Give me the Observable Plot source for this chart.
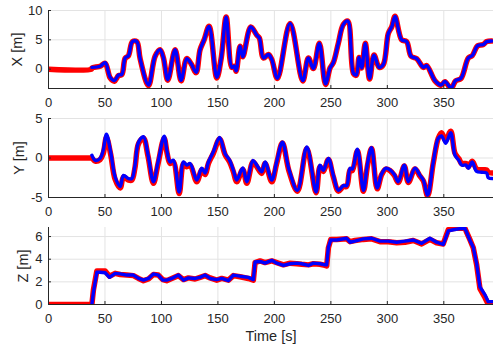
<!DOCTYPE html>
<html>
<head>
<meta charset="utf-8">
<script src="https://cdn.jsdelivr.net/npm/d3@7"></script>
<script src="https://cdn.jsdelivr.net/npm/@observablehq/plot@0.6"></script>
<style>
  html, body { margin: 0; padding: 0; background: #ffffff; }
  #chart { width: 498px; height: 354px; position: relative; overflow: hidden; }
  #chart svg { display: block; }
</style>
</head>
<body>
<div id="chart"></div>
<script>
// ---------- data ----------
const timeTicks = [0, 50, 100, 150, 200, 250, 300, 350];
const xTicksY = [0, 5, 10];
const yTicksY = [-5, 0, 5];
const zTicksY = [0, 2, 4, 6];

// reference (red) is zero before the start
const refStartT = [0, 38];
const refStartV = [0, 0];

// X panel
const xT = [38.4, 45.8, 50.2, 54.6, 58.4, 62, 64.9, 67.9, 70.8, 74.3, 78.2, 81.2, 88.5, 94.4, 98.8, 101.8, 105.6, 112.1, 117.4, 122.4, 126.3, 130.7, 134.2, 137.8, 142.2, 149, 153, 157.3, 162.3, 164.4, 166.1, 169.6, 172, 179.1, 184.4, 186.7, 190.3, 194.7, 197.6, 202.7, 213.9, 225.1, 230.1, 234.5, 239.8, 245.3, 249.3, 252.2, 256.6, 261, 265, 270, 272.5, 275, 277.3, 280.5, 284.3, 288.2, 292.8, 296.5, 300.9, 303.9, 306.8, 312.7, 317.1, 321, 326, 331.9, 334.8, 342.2, 347.5, 351, 356.4, 360.5, 365.2, 371.7, 375.2, 380, 385, 388, 392.4];
const xMeas = [0.3, 0.5, 1.1, -1.4, -1.95, -1.0, -0.9, 1.9, 2.3, 4.7, 4.7, 1.7, -2.7, 2.2, 3.3, 1.9, -1.8, 3.3, -1.9, 1.8, 0.9, -0.55, 3.3, 5.0, 7.3, -1.4, 2.0, 8.9, 0.3, 0.5, -0.3, 3.9, 2.1, 7.2, 5.8, 5.3, 1.9, 2.5, 1.7, -1.55, 7.8, -1.95, 1.9, 0.1, 4.4, -2.5, 0.2, 1.1, 4.4, 7.6, 8.2, -0.7, -1.0, 2.0, 0.2, 4.4, -1.6, 2.4, 0.3, 0.8, 6.1, 7.2, 9.0, 5.0, 4.7, 2.2, 1.8, 0.3, 0.6, -1.95, -2.7, -2.1, -3.2, -1.95, -1.55, 1.9, 2.3, 4.0, 4.2, 4.7, 4.8];
const xRef = [0.2, 0.5, 1.0, -1.5, -2.05, -1.1, -0.95, 1.85, 2.3, 4.7, 4.7, 1.7, -2.8, 2.2, 3.3, 1.9, -1.9, 3.3, -2.0, 1.8, 0.9, -0.6, 3.3, 5.0, 7.3, -1.5, 2.0, 8.9, 0.3, 0.5, -0.35, 3.9, 2.1, 7.2, 5.8, 5.3, 1.9, 2.5, 1.7, -1.6, 7.8, -2.0, 1.9, 0.1, 4.4, -2.6, 0.2, 1.1, 4.4, 7.6, 8.2, -0.75, -1.05, 2.0, 0.2, 4.4, -1.7, 2.4, 0.3, 0.8, 6.1, 7.2, 9.0, 5.0, 4.7, 2.2, 1.8, 0.3, 0.6, -2.0, -2.75, -2.15, -3.3, -2.0, -1.6, 1.9, 2.3, 4.0, 4.2, 4.7, 4.8];

// Y panel
const yT = [38.4, 41.3, 45.7, 48.5, 51.3, 55, 59, 63.5, 66.4, 70.8, 73.8, 76.5, 79.7, 84.1, 88, 92.9, 97, 102.4, 105, 107.7, 110.6, 115.7, 119.5, 122.4, 125.4, 131.3, 135.7, 138.7, 141.6, 146, 151.5, 156.4, 160.4, 163.7, 166.7, 172, 175.6, 181, 184.4, 188.8, 191.8, 197.7, 202, 207.1, 213, 220.4, 228.7, 236.9, 240.4, 243.4, 247.8, 252.2, 256.7, 261.1, 264, 267, 269, 273.5, 278.8, 282.5, 286, 291, 295, 298.6, 302.4, 306.2, 309.7, 315, 318.6, 324.5, 328.9, 331.9, 335.7, 340.7, 345.1, 348, 351.7, 356.1, 359.9, 363.4, 365.8, 369.7, 371.7, 375.2, 379, 383.5, 387.9, 389.4, 393];
const yMeas = [0.35, -0.3, -0.05, 1.0, 3.0, 0.8, -2.4, -3.6, -2.2, -2.6, -2.6, -1.0, 2.0, 2.7, 0.5, -3.0, -0.5, 2.75, 0.8, -0.5, -0.3, -4.3, -0.5, -0.9, -0.7, -2.8, -1.3, -1.9, -0.5, 0.8, 2.6, 0.55, -0.3, -1.55, -2.8, -1.25, -3.0, -0.3, -0.9, -1.75, -0.5, -2.8, -0.5, 2.0, -1.5, -4.1, 1.4, -4.3, -0.9, -1.55, -0.07, -2.2, -4.1, -3.5, -3.5, -1.3, -1.4, 1.1, -4.1, -0.7, 1.3, -3.8, -2.0, -1.3, -1.5, -2.1, -3.0, -0.9, -3.0, -1.3, -2.2, -2.8, -4.7, -0.5, 2.5, 2.8, 1.85, 3.2, 0.35, -0.3, -0.9, -0.9, -1.3, -0.5, -1.7, -1.8, -1.9, -2.5, -2.6];
const yRef = [0.0, -0.4, -0.2, 0.6, 2.6, 0.5, -2.7, -3.8, -2.4, -2.8, -2.8, -1.3, 1.8, 2.5, 0.3, -3.2, -0.7, 2.5, 0.6, -0.7, -0.5, -4.5, -0.7, -1.1, -0.9, -3.0, -1.5, -2.1, -0.7, 0.6, 2.4, 0.4, -0.5, -1.75, -3.0, -1.45, -3.2, -0.5, -1.1, -1.95, -0.7, -3.0, -0.7, 1.9, -1.7, -4.2, 1.2, -4.4, -1.1, -1.7, -0.2, -2.4, -4.2, -3.6, -3.6, -1.5, -1.6, 0.9, -4.2, -0.9, 1.2, -3.9, -2.1, -1.4, -1.6, -2.2, -3.1, -1.0, -3.1, -1.4, -2.3, -2.9, -4.8, -0.6, 2.5, 3.2, 2.2, 3.4, 0.6, -0.1, -0.7, -0.7, -1.1, -0.4, -1.4, -1.5, -1.5, -1.8, -1.9];

// Z panel
const zT = [38.4, 39.8, 42.8, 45.7, 50.2, 54, 59, 63.5, 69.3, 75.2, 79.7, 84.1, 88.5, 92.9, 97.3, 101.2, 104.6, 109.1, 115, 119.5, 123.9, 129.8, 134.2, 138.7, 143.1, 149, 153.4, 159.3, 163.7, 169.6, 176.9, 181.4, 182.9, 187.3, 191.7, 197.7, 202.1, 208, 213.9, 219.8, 224.2, 230.1, 234.5, 240.4, 244.8, 246.3, 247.8, 249.9, 255.2, 264, 267, 271.4, 278.8, 286.1, 293.5, 300.9, 308.3, 315.6, 323, 330.4, 337.7, 343.6, 349.5, 354, 358.5, 364.4, 368.8, 373.2, 376.1, 379.1, 382, 386.5, 389.4, 393.8];
const zMeas = [0, 1.1, 2.85, 2.85, 2.8, 2.4, 2.75, 2.7, 2.6, 2.6, 2.3, 2.15, 2.3, 2.7, 2.6, 2.15, 2.15, 2.3, 2.6, 2.15, 2.35, 2.3, 2.4, 2.6, 2.3, 2.2, 2.3, 2.1, 2.6, 2.5, 2.4, 2.2, 3.75, 3.8, 3.65, 3.9, 3.65, 3.45, 3.6, 3.65, 3.6, 3.45, 3.65, 3.6, 3.5, 3.5, 5.05, 5.7, 5.7, 5.85, 5.5, 5.6, 5.8, 5.85, 5.6, 5.6, 5.5, 5.6, 5.7, 5.4, 5.85, 5.5, 5.3, 6.5, 6.6, 6.7, 6.7, 5.65, 5.05, 3.6, 1.55, 0.85, 0.25, 0.25];
const zRef = [0, 1.3, 2.95, 2.95, 2.95, 2.5, 2.75, 2.65, 2.6, 2.55, 2.3, 2.1, 2.25, 2.65, 2.6, 2.2, 2.1, 2.3, 2.55, 2.2, 2.35, 2.25, 2.4, 2.55, 2.35, 2.15, 2.3, 2.15, 2.55, 2.45, 2.3, 2.15, 3.7, 3.85, 3.7, 3.85, 3.7, 3.5, 3.65, 3.6, 3.55, 3.5, 3.6, 3.55, 3.45, 3.4, 5.0, 5.75, 5.75, 5.8, 5.55, 5.65, 5.75, 5.8, 5.55, 5.55, 5.45, 5.5, 5.65, 5.35, 5.75, 5.45, 5.35, 6.6, 6.7, 6.75, 6.7, 5.7, 5.0, 3.5, 1.4, 0.6, 0.0, 0.0];

// ---------- drawing ----------
const FONT = "'Liberation Sans', Arial, Helvetica, sans-serif";
const AXIS = "#262626";
const GRID = "#e3e3e3";

function rows(t, v) { return t.map((d, i) => ({t: d, v: v[i]})); }

function panel({refT, refV, measT, measV, yDomain, yTicks, label, height, mt, mb, labelDx, curve, xLabel}) {
  const ref = rows([...refStartT, ...refT], [...refStartV, ...refV]);
  const meas = rows(measT, measV);
  const marks = [
    Plot.gridX(timeTicks, {stroke: GRID, strokeOpacity: 1, strokeWidth: 1}),
    Plot.gridY(yTicks, {stroke: GRID, strokeOpacity: 1, strokeWidth: 1}),
    Plot.line(ref, {x: "t", y: "v", stroke: "#ff0000", strokeWidth: 5.5, curve, clip: true}),
    Plot.line(meas, {x: "t", y: "v", stroke: "#0000ff", strokeWidth: 3.4, curve, clip: true}),
    Plot.ruleX([timeTicks[0]], {stroke: AXIS, strokeWidth: 1}),
    Plot.ruleY([yDomain[0]], {stroke: AXIS, strokeWidth: 1}),
    Plot.axisX(timeTicks, {
      tickSize: -3, tickPadding: 12, stroke: AXIS, fill: AXIS,
      tickFormat: d => String(d), label: null, fontSize: 13
    }),
    Plot.axisY(yTicks, {
      tickSize: -3, tickPadding: 9, stroke: AXIS, fill: AXIS,
      tickFormat: d => String(d), label: null, fontSize: 13
    }),
    Plot.text([label], {text: d => d, frameAnchor: "left", rotate: -90, dx: labelDx,
      fontSize: 14.5, fill: AXIS, textAnchor: "middle"})
  ];
  if (xLabel) {
    marks.push(Plot.text([xLabel], {text: d => d, frameAnchor: "bottom", dy: 36,
      fontSize: 14.5, fill: AXIS, textAnchor: "middle"}));
  }
  return Plot.plot({
    width: 498,
    height,
    marginLeft: 48,
    marginRight: 5,
    marginTop: mt,
    marginBottom: mb,
    style: {fontFamily: FONT, fontSize: "13px", color: AXIS, background: "white", overflow: "visible"},
    x: {domain: [0, 394]},
    y: {domain: yDomain},
    marks
  });
}

const chart = document.getElementById("chart");

chart.appendChild(panel({
  refT: xT, refV: xRef, measT: xT, measV: xMeas,
  yDomain: [-3.3, 10], yTicks: xTicksY, label: "X [m]",
  height: 110, mt: 10, mb: 22, labelDx: -31, curve: "catmull-rom"
}));
chart.appendChild(panel({
  refT: yT, refV: yRef, measT: yT, measV: yMeas,
  yDomain: [-5, 5], yTicks: yTicksY, label: "Y [m]",
  height: 110, mt: 8, mb: 23, labelDx: -29, curve: "catmull-rom"
}));
chart.appendChild(panel({
  refT: zT, refV: zRef, measT: zT, measV: zMeas,
  yDomain: [0, 6.8], yTicks: zTicksY, label: "Z [m]",
  height: 134, mt: 7, mb: 50, labelDx: -25, curve: "linear", xLabel: "Time [s]"
}));
</script>
</body>
</html>
